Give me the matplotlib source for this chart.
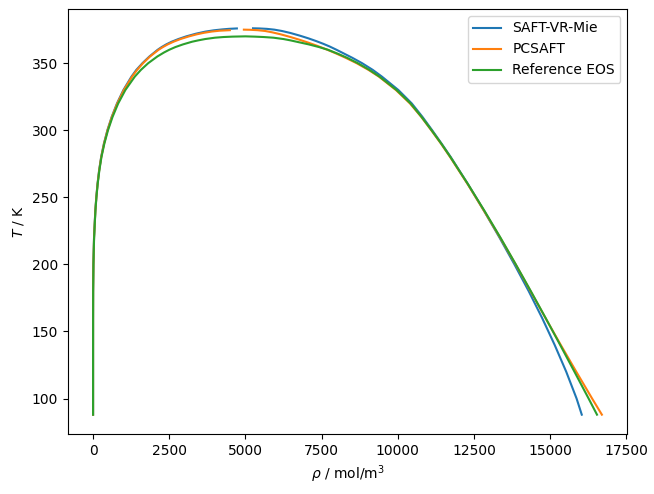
import numpy as np
import matplotlib.pyplot as plt

# Saturation curves, temperature in K and density in mol/m3

# SAFT-VR-Mie
T_mie_vap = [88, 100, 120, 140, 160, 180, 200, 220, 240, 250, 260, 270, 280, 290, 300, 310,
             320, 330, 340, 345, 350, 355, 360, 362, 364, 366, 368, 370, 372, 373.5, 374.5,
             375.2, 375.6, 375.9]
rho_mie_vap = [0, 0, 0, 0.1, 0.4, 2.2, 11.5, 32, 74, 106, 146, 198, 265, 355, 470, 612,
               785, 995, 1260, 1420, 1620, 1850, 2120, 2250, 2400, 2580, 2800, 3060, 3380,
               3680, 3960, 4250, 4460, 4720]
T_mie_liq = [376.0, 375.9, 375.6, 375.0, 374.0, 372.5, 370.5, 368.5, 366.5, 364.5, 362.5, 360,
             357, 354, 350, 345, 340, 330, 320, 310, 300, 290, 280, 260, 240, 220, 200, 180,
             160, 140, 120, 100, 88]
rho_mie_liq = [5250, 5450, 5700, 5950, 6200, 6480, 6790, 7070, 7320, 7550, 7760, 7990,
               8250, 8510, 8830, 9180, 9480, 10020, 10460, 10810, 11130, 11440, 11740, 12300,
               12830, 13340, 13830, 14300, 14740, 15150, 15530, 15870, 16040]

# PC-SAFT
T_pc_vap = [88, 100, 120, 140, 160, 180, 200, 220, 240, 250, 260, 270, 280, 290, 300, 310,
            320, 330, 340, 345, 350, 355, 360, 362, 364, 366, 368, 370, 371.5, 372.7, 373.6,
            374.2, 374.6]
rho_pc_vap = [0, 0, 0, 0.1, 0.4, 2.2, 11.5, 32, 75, 107, 148, 200, 268, 360, 475, 618,
              795, 1010, 1280, 1445, 1640, 1870, 2150, 2290, 2450, 2640, 2870, 3150, 3400,
              3650, 3900, 4150, 4490]
T_pc_liq = [375.0, 374.9, 374.6, 374.0, 373.0, 371.5, 369.5, 367.5, 365.5, 363, 360, 357, 354,
            350, 345, 340, 330, 320, 310, 300, 290, 280, 260, 240, 220, 200, 180, 160, 140,
            120, 100, 88]
rho_pc_liq = [4950, 5150, 5400, 5650, 5880, 6160, 6480, 6770, 7040, 7350, 7690, 8000, 8290,
              8650, 9040, 9380, 9940, 10400, 10770, 11100, 11420, 11720, 12290, 12830, 13360,
              13870, 14360, 14850, 15350, 15860, 16380, 16700]

# Reference EOS (vapour branch up to the critical point, then liquid branch)
T_ref = [88, 100, 120, 140, 160, 180, 200, 220, 240, 250, 260, 270, 280, 290, 300, 310, 320,
         330, 340, 345, 350, 355, 358, 360, 362, 364, 366, 367, 368, 369, 369.5, 369.8, 370.0,
         369.8, 369.5, 369.0, 368, 367, 366, 364, 362, 360, 357, 354, 350, 345, 340, 330,
         320, 310, 300, 290, 280, 260, 240, 220, 200, 180, 160, 140, 120, 100, 88]
rho_ref = [0, 0, 0, 0.1, 0.5, 2.3, 12, 34, 77, 110, 152, 206, 275, 370, 490, 640, 825,
           1060, 1370, 1570, 1810, 2110, 2330, 2500, 2700, 2950, 3250, 3450, 3680, 4000,
           4280, 4580, 5000,
           5300, 5600, 5920, 6250, 6480, 6680, 7080, 7420, 7710, 8040, 8340, 8690, 9070,
           9400, 9960, 10420, 10780, 11110, 11430, 11730, 12300, 12845, 13370, 13875,
           14370, 14855, 15330, 15800, 16265, 16540]

fig = plt.figure(figsize=(6.54, 4.94), dpi=100)
ax = fig.add_subplot(111)
fig.subplots_adjust(left=0.1034, right=0.9592, bottom=0.1215, top=0.9818)

# model curves: vapour and liquid branches don't meet at the top
ax.plot(rho_mie_vap + [np.nan] + rho_mie_liq, T_mie_vap + [np.nan] + T_mie_liq,
        color='C0', label='SAFT-VR-Mie')
ax.plot(rho_pc_vap + [np.nan] + rho_pc_liq, T_pc_vap + [np.nan] + T_pc_liq,
        color='C1', label='PCSAFT')
ax.plot(rho_ref, T_ref, color='C2', label='Reference EOS')

ax.set_xlabel(r'$\rho$ / mol/m$^3$')
ax.set_ylabel(r'$T$ / K')
ax.legend(loc='upper right')

plt.savefig('out.png', dpi=100)
